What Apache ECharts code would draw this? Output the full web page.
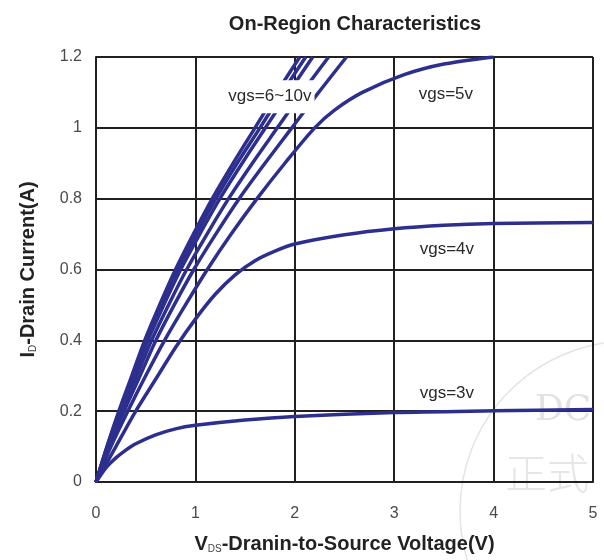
<!DOCTYPE html>
<html>
<head>
<meta charset="utf-8">
<script src="https://cdn.jsdelivr.net/npm/echarts@6/dist/echarts.min.js"></script>
<style>
html,body{margin:0;padding:0;background:#fff;}
#chart{width:604px;height:560px;}
</style>
</head>
<body>
<div id="chart"></div>
<script>
// ---- data ----
const xTickLabels = ['0', '1', '2', '3', '4', '5'];
const yTickLabels = ['0', '0.2', '0.4', '0.6', '0.8', '1', '1.2'];

// [VDS (V), ID (A)]
const vgs10 = [[0,0],[0.11,0.1],[0.23,0.2],[0.36,0.3],[0.49,0.4],[0.64,0.5],[0.80,0.6],[0.98,0.7],[1.17,0.8],[1.38,0.9],[1.60,1.0],[1.82,1.1],[2.05,1.2]];
const vgs9  = [[0,0],[0.113,0.1],[0.237,0.2],[0.37,0.3],[0.505,0.4],[0.66,0.5],[0.824,0.6],[1.01,0.7],[1.205,0.8],[1.42,0.9],[1.65,1.0],[1.875,1.1],[2.11,1.2]];
const vgs8  = [[0,0],[0.117,0.1],[0.245,0.2],[0.383,0.3],[0.522,0.4],[0.682,0.5],[0.852,0.6],[1.044,0.7],[1.246,0.8],[1.47,0.9],[1.704,1.0],[1.94,1.1],[2.18,1.2]];
const vgs7  = [[0,0],[0.125,0.1],[0.262,0.2],[0.41,0.3],[0.559,0.4],[0.73,0.5],[0.912,0.6],[1.117,0.7],[1.334,0.8],[1.573,0.9],[1.824,1.0],[2.075,1.1],[2.34,1.2]];
const vgs6  = [[0,0],[0.135,0.1],[0.283,0.2],[0.443,0.3],[0.603,0.4],[0.787,0.5],[0.984,0.6],[1.205,0.7],[1.44,0.8],[1.70,0.9],[1.97,1.0],[2.24,1.1],[2.52,1.2]];
const vgs5  = [[0,0],[0.15,0.1],[0.32,0.2],[0.5,0.3],[0.69,0.4],[0.9,0.5],[1.12,0.6],[1.36,0.7],[1.62,0.8],[1.9,0.9],[2.2,1.0],[2.4,1.05],[2.68,1.1],[3.1,1.15],[3.5,1.18],[4.0,1.2]];
const vgs4  = [[0,0],[0.2,0.1],[0.4,0.2],[0.6,0.29],[0.8,0.38],[1.0,0.46],[1.2,0.53],[1.4,0.585],[1.6,0.625],[1.8,0.652],[2.0,0.672],[2.5,0.698],[3.0,0.715],[3.5,0.725],[4.0,0.73],[5.0,0.733]];
const vgs3  = [[0,0],[0.1,0.04],[0.2,0.068],[0.3,0.09],[0.4,0.108],[0.6,0.133],[0.8,0.15],[1.0,0.16],[1.5,0.175],[2.0,0.185],[3.0,0.196],[4.0,0.201],[5.0,0.205]];

const curveNames = ['vgs10','vgs9','vgs8','vgs7','vgs6','vgs5','vgs4','vgs3'];
const curves = [vgs10, vgs9, vgs8, vgs7, vgs6, vgs5, vgs4, vgs3];

const annotationTexts = ['vgs=6~10v', 'vgs=5v', 'vgs=4v', 'vgs=3v'];
const annotationAt = [[1.75, 1.088], [3.52, 1.096], [3.53, 0.658], [3.53, 0.251]];

// ---- chart ----
const chart = echarts.init(document.getElementById('chart'), null, {renderer: 'canvas'});
const lineColor = '#2d2f8e';
const gridColor = '#231f20';
const font = 'Liberation Sans, Arial, Helvetica, sans-serif';

const series = curves.map((d, i) => ({
  name: curveNames[i],
  type: 'line',
  data: d,
  showSymbol: false,
  smooth: 0.3,
  lineStyle: {color: lineColor, width: 3.5},
  z: 3,
  silent: true
}));

const watermark = [
  {type: 'circle', shape: {cx: 630, cy: 511, r: 170}, style: {fill: 'none', stroke: '#e4e4e4', lineWidth: 1.5}, z: 0, silent: true},
  {type: 'text', left: 535, top: 393, style: {text: 'DC', fontSize: 36, fontFamily: 'DejaVu Serif, serif', fill: '#e2e2e2'}, z: 0, silent: true},
  {type: 'text', left: 505, top: 452, style: {text: '正式', fontSize: 42, fontFamily: 'Noto Sans CJK SC', fontWeight: 300, fill: '#e6e6e6'}, z: 0, silent: true}
];

chart.setOption({
  animation: false,
  backgroundColor: '#ffffff',
  title: {
    text: 'On-Region Characteristics',
    left: 350,
    top: 9,
    textAlign: 'center',
    textStyle: {fontSize: 20, fontWeight: 'bold', color: '#222', fontFamily: font}
  },
  grid: {left: 96, right: 11, top: 57, bottom: 78},
  xAxis: {
    type: 'value',
    min: 0, max: 5, interval: 1,
    name: 'V{sub|DS}-Dranin-to-Source Voltage(V)',
    nameLocation: 'middle',
    nameGap: 52,
    nameTextStyle: {
      fontSize: 20, fontWeight: 'bold', color: '#222', fontFamily: font,
      rich: {sub: {fontSize: 10, fontWeight: 'normal', color: '#444', fontFamily: font, verticalAlign: 'bottom', padding: [8,0,0,0]}}
    },
    axisLine: {show: true, lineStyle: {color: gridColor, width: 2}},
    axisTick: {show: false},
    axisLabel: {
      margin: 24, fontSize: 16, color: '#4a4a4a', fontFamily: font,
      formatter: (v, idx) => xTickLabels[idx]
    },
    splitLine: {show: true, lineStyle: {color: gridColor, width: 2}}
  },
  yAxis: {
    type: 'value',
    min: 0, max: 1.2, interval: 0.2,
    name: 'I{sub|D}-Drain Current(A)',
    nameLocation: 'middle',
    nameRotate: 90,
    nameGap: 58,
    nameTextStyle: {
      fontSize: 20, fontWeight: 'bold', color: '#222', fontFamily: font,
      rich: {sub: {fontSize: 10, fontWeight: 'normal', color: '#444', fontFamily: font, verticalAlign: 'bottom', padding: [8,0,0,0]}}
    },
    axisLine: {show: true, lineStyle: {color: gridColor, width: 2}},
    axisTick: {show: false},
    axisLabel: {
      margin: 14, fontSize: 16, color: '#4a4a4a', fontFamily: font,
      formatter: (v, idx) => yTickLabels[idx]
    },
    splitLine: {show: true, lineStyle: {color: gridColor, width: 2}}
  },
  graphic: watermark,
  series: series
});

// annotations placed through the chart's own coordinate conversion
const notes = annotationAt.map((p, i) => {
  const px = chart.convertToPixel({gridIndex: 0}, p);
  return {
    type: 'text',
    x: px[0], y: px[1],
    z: 100,
    silent: true,
    style: {
      text: annotationTexts[i],
      fontSize: 17,
      fontFamily: font,
      fill: '#2a2a2a',
      align: 'center',
      verticalAlign: 'middle',
      backgroundColor: i === 0 ? '#ffffff' : null,
      padding: i === 0 ? [8, 3] : 0
    }
  };
});
chart.setOption({graphic: watermark.concat(notes)});
</script>
</body>
</html>
